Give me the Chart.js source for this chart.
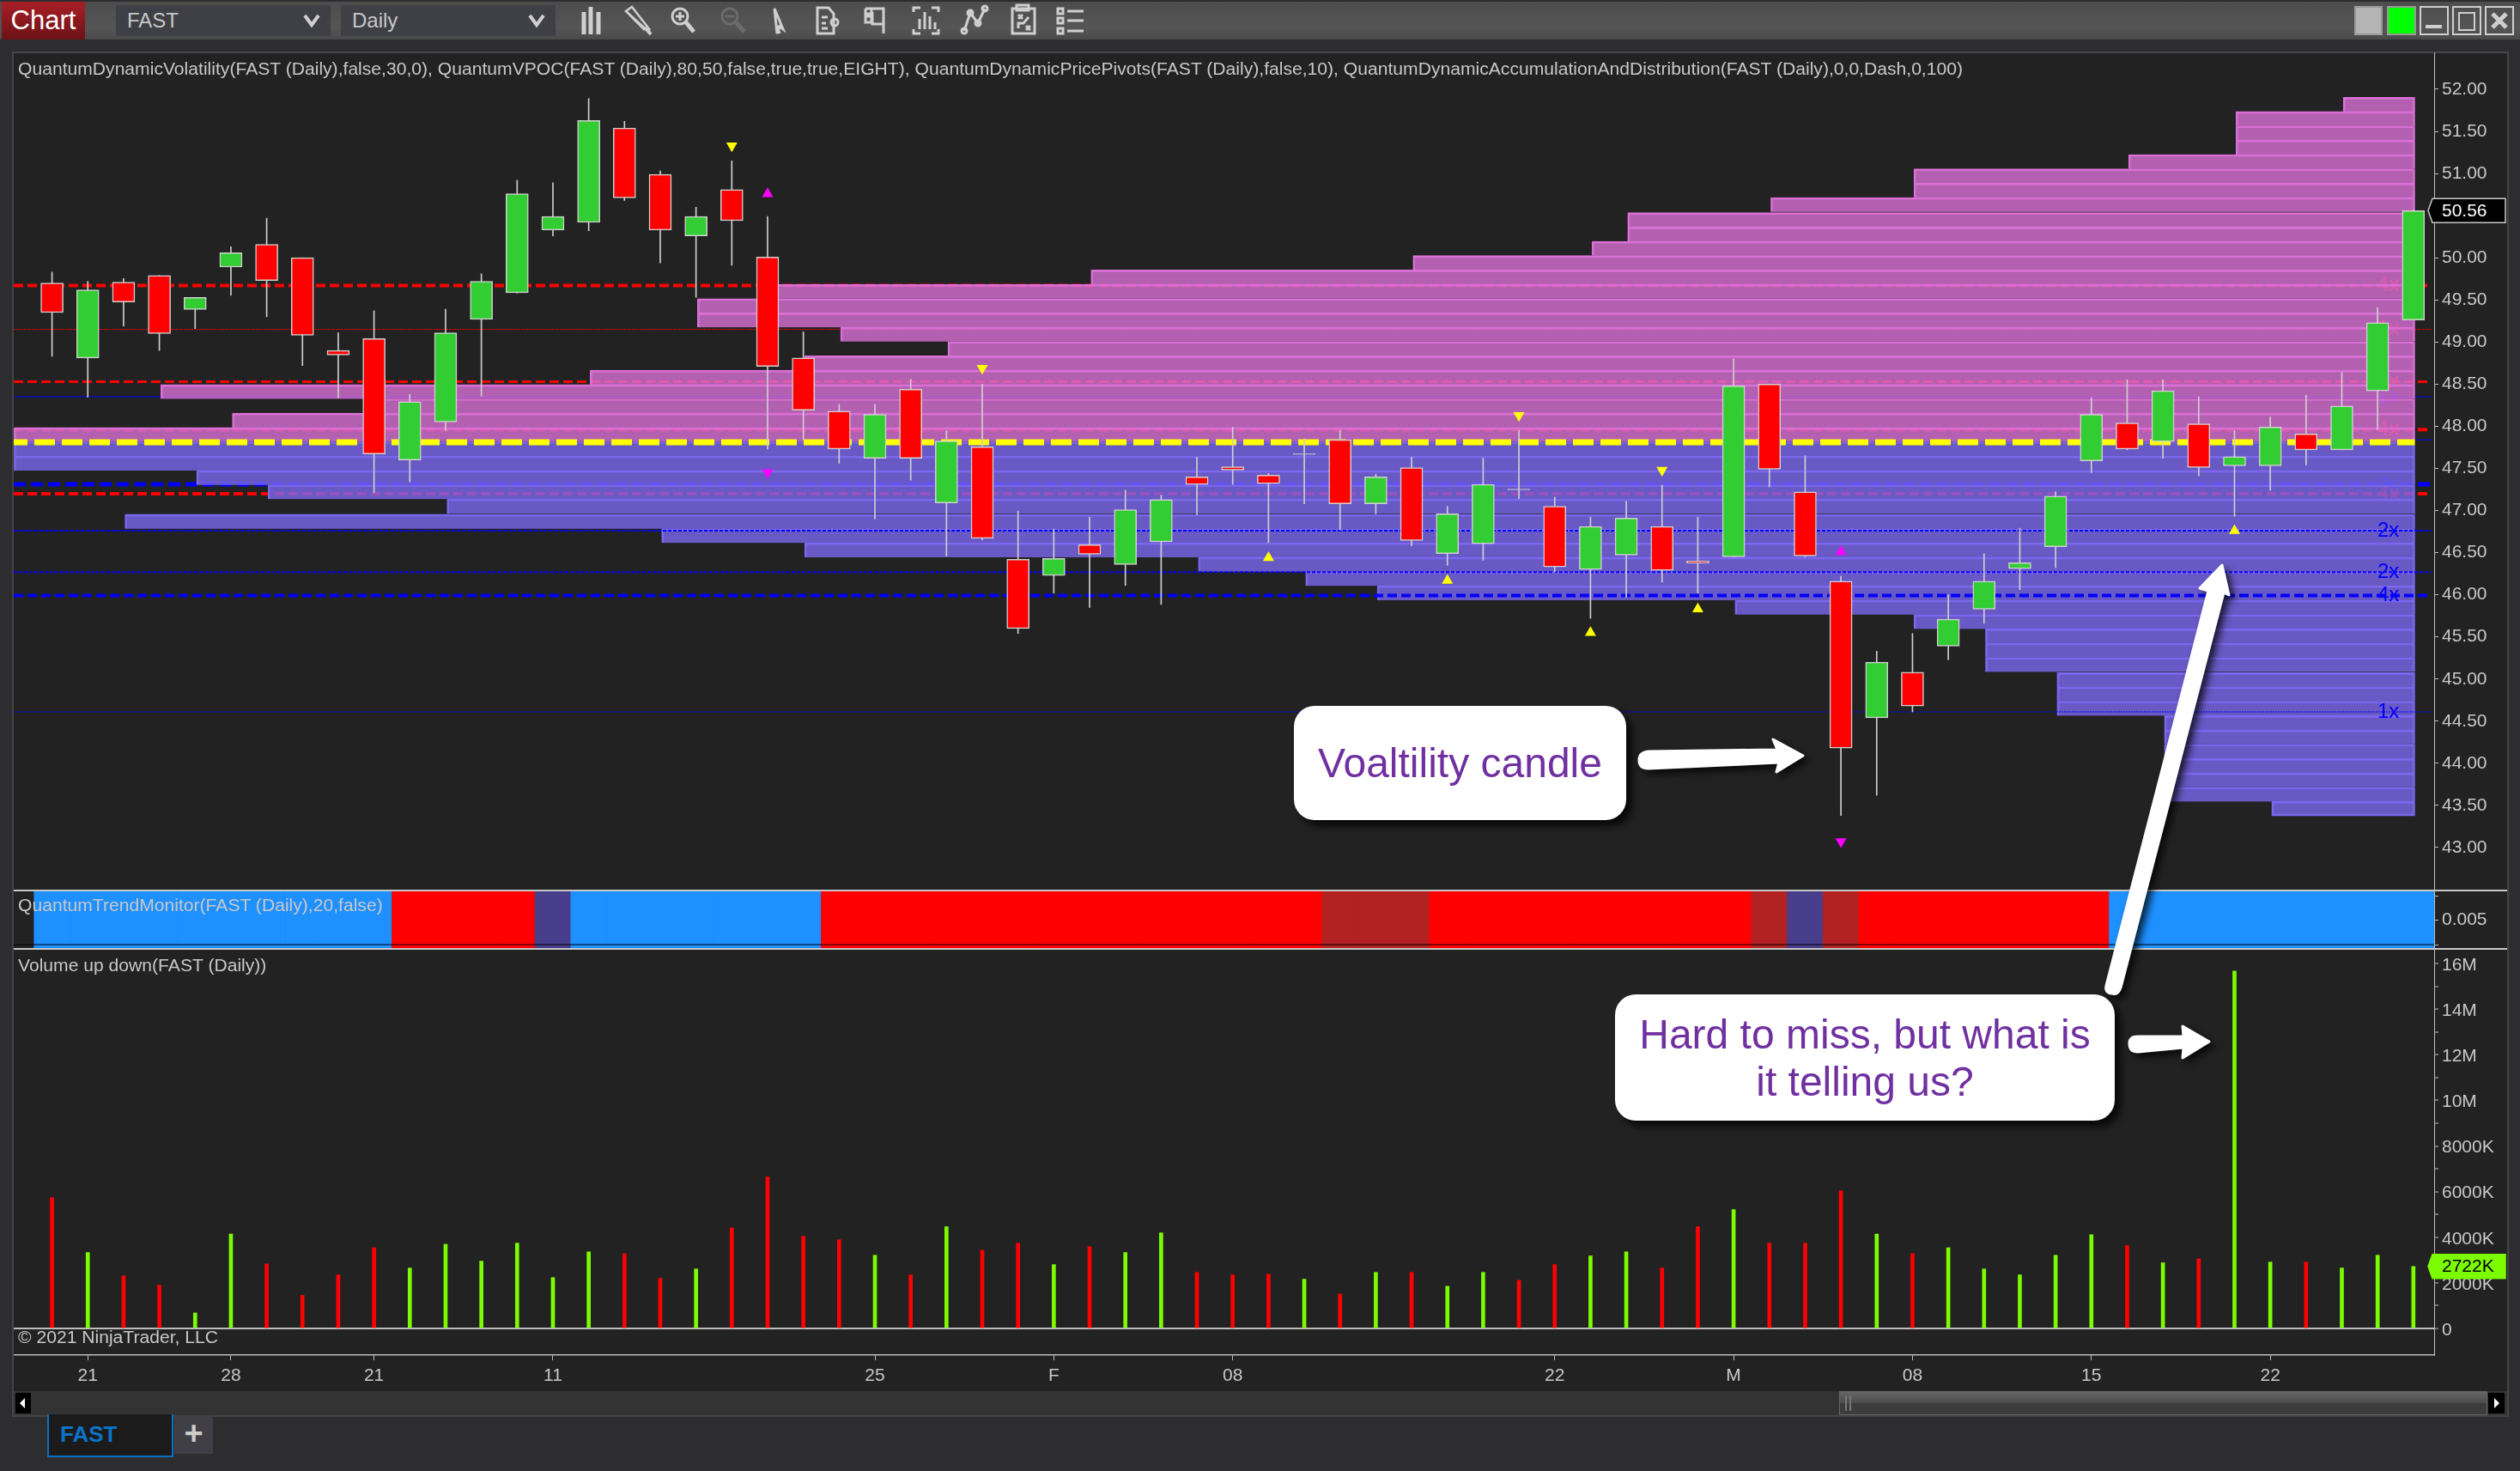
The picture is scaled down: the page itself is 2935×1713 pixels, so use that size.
<!DOCTYPE html>
<html>
<head>
<meta charset="utf-8">
<title>FAST Daily</title>
<script src="https://cdn.jsdelivr.net/npm/chart.js@4/dist/chart.umd.js"></script>
<style>
	html, body { margin: 0; padding: 0; background: #2d2d30; width: 2935px; height: 1713px; overflow: hidden; font-family: 'Liberation Sans', Arial, sans-serif; }
	.abs { position: absolute; white-space: nowrap; }
	canvas { position: absolute; display: block; }
	.label { color: #c8c8c8; font-size: 21.12px; line-height: 24px; }
	.combo { background: #3f3f46; color: #c8c8c8; font-size: 24px; line-height: 36px; top: 6px; height: 36px; width: 237px; padding-left: 13px; }
	.note { background: #fff; color: #7030a0; font-size: 48px; line-height: 55px; border-radius: 24px; box-shadow: 7px 7px 9px rgba(0,0,0,.75); display: flex; align-items: center; justify-content: center; text-align: center; }
</style>
</head>
<body>
<!-- window chrome -->
<div class="abs" style="left:0;top:2px;width:2935px;height:44px;background:linear-gradient(#4d4d4d,#555 70%,#4a4a4a)"></div>
<div class="abs" style="left:2px;top:2px;width:97px;height:44px;background:linear-gradient(#a81e26,#6d1216);color:#fff;font-size:31px;line-height:44px;text-align:center">Chart</div>
<div class="abs combo" style="left:135px">FAST</div>
<div class="abs combo" style="left:397px">Daily</div>
<div class="abs" style="left:14px;top:60px;width:2908px;height:1590px;background:#333;box-shadow:inset 0 0 0 2px #444"></div>
<div class="abs" style="left:16px;top:62px;width:2904px;height:1558px;background:#222"></div>

<canvas id="priceChart" width="2904" height="975" style="left:16px;top:61px"></canvas>
<canvas id="trendChart" width="2904" height="69" style="left:16px;top:1036px"></canvas>
<canvas id="volumeChart" width="2904" height="515" style="left:16px;top:1105px"></canvas>

<div class="abs" style="left:16px;top:1036px;width:2904px;height:1.5px;background:#c8c8c8"></div>
<div class="abs" style="left:16px;top:1104px;width:2904px;height:1.5px;background:#c8c8c8"></div>

<div class="abs label" style="left:21px;top:68px">QuantumDynamicVolatility(FAST (Daily),false,30,0), QuantumVPOC(FAST (Daily),80,50,false,true,true,EIGHT), QuantumDynamicPricePivots(FAST (Daily),false,10), QuantumDynamicAccumulationAndDistribution(FAST (Daily),0,0,Dash,0,100)</div>
<div class="abs label" style="left:21px;top:1042px">QuantumTrendMonitor(FAST (Daily),20,false)</div>
<div class="abs label" style="left:21px;top:1112px">Volume up down(FAST (Daily))</div>
<div class="abs label" style="left:21px;top:1545px">© 2021 NinjaTrader, LLC</div>

<!-- scroll bar and tabs -->
<div class="abs" style="left:18px;top:1622px;width:18px;height:24px;background:#000"></div>
<div class="abs" style="left:2142px;top:1620px;width:753px;height:26px;border:1.5px solid #666;background:linear-gradient(#666,#4c4c4c 48%,#3c3c3c 50%)"></div>
<div class="abs" style="left:2898px;top:1622px;width:19px;height:24px;background:#000"></div>
<div class="abs" style="left:55px;top:1647px;width:143px;height:48px;background:#1b1b1b;border:2px solid #0b6fc2;border-top:0;color:#0b74c8;font-size:26px;font-weight:bold;line-height:46px;text-indent:13px">FAST</div>
<div class="abs" style="left:203px;top:1648px;width:45px;height:45px;background:#3f3f45;color:#ccc;font-size:38px;font-weight:bold;line-height:42px;text-align:center">+</div>

<!-- call-outs -->
<div class="abs note" style="left:1507px;top:822px;width:387px;height:133px">Voaltility candle</div>
<div class="abs note" style="left:1881px;top:1158px;width:582px;height:147px">Hard to miss, but what is<br>it telling us?</div>

<!-- toolbar icons and annotation arrows -->
<svg class="abs" style="left:0;top:0" width="2935" height="1713" viewBox="0 0 2935 1713">
	<g fill="none" stroke="#cfcfcf" stroke-width="3">
		<path d="M355 18l8 11 8-11" stroke-width="4"/><path d="M617 18l8 11 8-11" stroke-width="4"/>
		<path d="M680 14v26M688 8v32M697 14v26" stroke-width="5"/>
		<path d="M729 13l7-5 21 27-7-3zM733 17l18 18" stroke-width="2.5"/><path d="M752 33l6 7" stroke-width="4"/>
		<circle cx="792" cy="19" r="9"/><path d="M787 19h10M792 14v10"/><path d="M799 26l9 11" stroke-width="5"/>
		<g stroke="#6b6b6b"><circle cx="850" cy="19" r="9"/><path d="M845 19h10"/><path d="M857 26l10 11" stroke-width="5"/></g>
		<path d="M902 10l10 24-4-3-3 8zM905 30l3 9"/>
		<path d="M952 9h13l6 7v23h-19zM957 20h7M957 27h5M957 33h7"/><circle cx="972" cy="26" r="4"/>
		<path d="M1008 10h21v29M1008 10v6h7v-6M1008 19h7v7h-7zM1016 14v14h13"/>
		<path d="M1064 14v-5h8M1085 9h8v5M1093 34v5h-8M1072 39h-8v-5M1071 34v-12M1077 34v-20M1083 34v-15M1089 34v-8"/>
		<path d="M1123 36l7-21 9 12 8-17"/><circle cx="1123" cy="36" r="3"/><circle cx="1130" cy="15" r="3"/><circle cx="1139" cy="27" r="3"/><circle cx="1147" cy="10" r="3"/>
		<path d="M1179 10h26v29h-26zM1184 6h14v6h-14zM1186 17l5 5M1191 17l-5 5M1195 30l5 5M1200 30l-5 5M1186 33v-6h6l6-7"/>
		<path d="M1232 10h6v6h-6zM1232 21h6v6h-6zM1232 33h6v6h-6zM1243 13h19M1243 24h19M1243 36h19"/>
	</g>
	<rect x="2743" y="8" width="31" height="32" fill="#b4b4b4" stroke="#999" stroke-width="2"/>
	<rect x="2781" y="8" width="32" height="32" fill="#00ff00" stroke="#999" stroke-width="2"/>
	<g fill="none" stroke="#cfcfcf" stroke-width="2"><rect x="2819" y="8" width="32" height="32"/><rect x="2857" y="8" width="32" height="32"/><rect x="2895" y="8" width="32" height="32"/><path d="M2825 31h19" stroke-width="4"/><rect x="2864" y="15" width="18" height="20"/><path d="M2903 16l16 16M2919 16l-16 16" stroke-width="5"/></g>
	<path d="M23 1634l6-6v12z" fill="#fff"/><path d="M2911 1634l-6-6v12z" fill="#fff"/>
	<path d="M2150 1625v18M2155 1625v18" stroke="#777" stroke-width="2"/>
	<g fill="#fff" stroke="#fff" stroke-width="3" stroke-linejoin="round" style="filter:drop-shadow(5px 5px 4px rgba(0,0,0,.75))">
		<path d="M1920 875L2070 873L2065 861L2100 880L2069 899L2072 888L1920 895Q1909 895 1909 885Q1909 876 1920 875Z"/>
		<path d="M2453 1148L2572 688L2562 685L2588 658L2596 693L2590 690L2470 1150Q2467 1159 2460 1157Q2451 1156 2453 1148Z"/>
		<path d="M2490 1207L2543 1207L2542 1195L2573 1213L2542 1232L2543 1220L2490 1225Q2480 1225 2480 1215Q2480 1207 2490 1207Z"/>
	</g>
</svg>

<script>
// bars run left to right, price values
const opens = [49.70,48.81,49.71,49.79,49.385,49.89,50.16,50.00,48.90,49.04,47.60,48.05,49.27,49.585,50.33,50.42,51.54,50.99,50.26,50.81,50.01,48.81,48.18,47.62,48.44,47.09,47.755,46.42,46.23,46.595,46.36,46.63,47.40,47.52,47.42,47.665,47.84,47.08,47.51,46.49,46.605,47.255,47.05,46.30,46.47,46.81,46.40,46.45,48.50,47.22,46.16,44.54,45.08,45.39,45.83,46.31,46.57,47.59,48.04,47.82,48.03,47.53,47.53,47.91,47.72,48.42,49.26];
const highs = [49.83,49.72,49.755,49.79,49.53,50.13,50.47,50.00,49.11,49.37,48.38,49.39,49.81,50.92,50.89,51.89,51.62,51.03,50.60,51.15,50.49,49.12,48.26,48.26,48.56,47.95,48.50,46.995,46.78,46.92,47.24,47.18,47.63,47.99,47.44,47.85,47.95,47.43,47.63,47.05,47.62,47.95,47.16,46.92,47.11,47.30,46.92,48.80,48.50,47.65,46.22,45.33,45.54,46.00,46.49,46.79,47.22,48.34,48.55,48.55,48.35,47.95,48.11,48.37,48.64,49.41,50.57];
const lows = [48.83,48.345,49.19,48.90,49.16,49.555,49.30,48.72,48.34,47.21,47.34,47.95,48.36,49.58,50.26,50.32,50.68,49.94,49.53,49.91,47.73,47.84,47.56,46.90,47.36,46.46,46.65,45.54,46.02,45.85,46.11,45.885,46.95,47.31,46.62,47.08,46.77,46.96,46.58,46.35,46.41,47.14,46.27,45.72,45.97,46.15,46.02,46.45,47.28,46.45,43.38,43.62,44.61,45.23,45.66,46.06,46.32,47.45,47.72,47.62,47.41,46.93,47.24,47.54,47.72,47.96,49.26];
const closes = [49.35,49.62,49.475,49.10,49.53,50.06,49.73,49.08,48.845,47.67,48.29,49.11,49.72,50.76,50.49,51.63,50.71,50.33,50.49,50.44,48.71,48.19,47.73,48.14,47.62,47.825,46.67,45.60,46.43,46.48,47.01,47.13,47.31,47.48,47.32,47.675,47.08,47.40,46.645,46.96,47.31,47.245,46.33,46.81,46.91,46.29,46.376,48.48,47.49,46.46,44.18,45.20,44.68,45.71,46.16,46.38,47.17,48.14,47.73,48.42,47.51,47.64,47.99,47.72,48.24,49.23,50.56];
// volume in millions
const volumes = [5.74,3.33,2.31,1.90,0.68,4.14,2.83,1.45,2.35,3.54,2.65,3.69,2.95,3.74,2.23,3.36,3.28,2.20,2.61,4.41,6.64,4.04,3.89,3.21,2.35,4.46,3.43,3.74,2.80,3.59,3.33,4.19,2.46,2.35,2.38,2.16,1.51,2.46,2.46,1.85,2.46,2.11,2.80,3.18,3.36,2.65,4.46,5.21,3.74,3.74,6.04,4.14,3.28,3.54,2.61,2.35,3.21,4.11,3.63,2.88,3.06,15.67,2.91,2.91,2.65,3.21,2.72];

// trend monitor state per bar, the last block runs on to the axis
const trendStates = ['up','up','up','up','up','up','up','up','up','up','down','down','down','down','flat','up','up','up','up','up','up','up','down','down','down','down','down','down','down','down','down','down','down','down','down','down','weak','weak','weak','down','down','down','down','down','down','down','down','down','weak','flat','weak','down','down','down','down','down','down','down','up','up','up','up','up','up','up','up','up','up'];
const trendColours = { up: '#1e90ff', down: '#ff0000', weak: '#b22222', flat: '#483d8b' };

// volume profile rows: row price and its length in bars
const profilePrices = [51.82,51.65,51.48,51.31,51.14,50.97,50.80,50.63,50.45,50.28,50.11,49.94,49.77,49.60,49.43,49.26,49.09,48.92,48.75,48.58,48.41,48.24,48.07,47.90,47.73,47.56,47.39,47.22,47.05,46.87,46.70,46.53,46.36,46.19,46.02,45.85,45.68,45.51,45.34,45.17,44.99,44.82,44.65,44.48,44.31,44.14,43.97,43.80,43.63,43.46];
const profileLengths = [2,5,5,5,8,14,14,18,22,22,23,28,37,46,48,48,44,41,45,51,63,57,61,67.1,67.1,67.1,62,60,55,64,49,45,34,31,29,19,14,12,12,12,10,10,10,7,7,7,7,7,7,4];
const pocPrice = 47.81;

// accumulation and distribution levels
const levelPrices = [49.67,49.15,48.53,48.35,47.96,47.84,47.31,47.20,46.76,46.27,45.99,44.61];
const levelLabels = ['4x','1x','2x','1x','4x','','4x','4x','2x','2x','4x','1x'];
const levelSides = ['sell','sell','sell','buy','sell','buy','buy','sell','buy','buy','buy','buy'];
const levelFront = [false,false,false,false,false,false,false,false,true,true,true,true];
const levelWidths = [4,1,3,1,4,1,5,4,2,2,4,1];
const levelDashes = [[11,5],[2,1],[11,5],[],[11,5],[],[14,6],[11,5],[4,2],[4,2],[11,5],[2,1]];

// price pivots
const pivotBars = [19,20,20,26,34,41,45,39,46,43,50,50,61];
const pivotPrices = [51.33,50.76,47.45,48.69,46.44,48.13,47.48,46.17,45.83,45.55,46.51,43.07,46.76];
const pivotKinds = ['yellowDown','magentaUp','magentaDown','yellowDown','yellowUp','yellowDown','yellowDown','yellowUp','yellowUp','yellowUp','magentaUp','magentaDown','yellowUp'];

// axis labels
const priceTicks = [43,43.5,44,44.5,45,45.5,46,46.5,47,47.5,48,48.5,49,49.5,50,50.5,51,51.5,52];
const trendTicks = [0,0.005,0.01];
const volumeTicks = [0,1,2,3,4,5,6,7,8,9,10,11,12,13,14,15,16];
const volumeLabels = { 0: '0', 2: '2000K', 4: '4000K', 6: '6000K', 8: '8000K', 10: '10M', 12: '12M', 14: '14M', 16: '16M' };
const dateBars = [1,5,9,14,23,28,33,42,47,52,57,62];
const dateLabels = ['21','28','21','11','25','F','08','22','M','08','15','22'];
const lastPrice = 50.56;
const lastVolume = 2.722;
const lastVolumeLabel = '2722K';

const bars = opens.map((o, i) => i);
const xMin = -1.07, xMax = 66.58, profileEnd = 66.04, levelEnd = 66.5;
const axisColour = '#bdbdbd', textColour = '#c8c8c8';
const font = { family: "'Liberation Sans', Arial, sans-serif", size: 21 };

const noPad = s => { s.paddingTop = 0; s.paddingBottom = 0; s.paddingLeft = 0; s.paddingRight = 0; };

function yAxis(min, max, ticks, format, labelOffset) {
	return {
		type: 'linear', position: 'right', min, max, offset: false,
		afterFit: s => { s.width = 85; noPad(s); },
		afterBuildTicks: s => { s.ticks = ticks.map(value => ({ value })); },
		border: { display: true, color: axisColour, width: 1 },
		grid: { offset: false, drawOnChartArea: false, tickLength: 5, tickColor: axisColour, tickWidth: 1 },
		ticks: { color: textColour, font, padding: 4, autoSkip: false, maxRotation: 0, labelOffset: labelOffset || 0, callback: format }
	};
}
const hiddenX = { type: 'linear', min: xMin, max: xMax, offset: false, display: false, grid: { offset: false } };
const baseOptions = { responsive: false, animation: false, devicePixelRatio: 1, layout: { padding: 0, autoPadding: false }, events: [], plugins: { legend: { display: false }, tooltip: { enabled: false } } };

// price / volume flag on the right axis
function flagPlugin(value, label, fill, ink, stroke) {
	return {
		id: 'flag',
		afterDraw(chart) {
			const c = chart.ctx, y = chart.scales.y.getPixelForValue(value), l = chart.chartArea.right - 7, r = chart.width - 2;
			c.save();
			c.beginPath();
			c.moveTo(l, y);
			c.lineTo(l + 5, y - 14);
			c.lineTo(r, y - 14);
			c.lineTo(r, y + 14);
			c.lineTo(l + 5, y + 14);
			c.closePath();
			c.fillStyle = fill;
			c.fill();
			c.strokeStyle = stroke;
			c.lineWidth = 1.5;
			c.stroke();
			c.fillStyle = ink;
			c.font = "21px 'Liberation Sans', Arial, sans-serif";
			c.textBaseline = 'middle';
			c.fillText(label, chart.chartArea.right + 9, y + 1);
			c.restore();
		}
	};
}

function drawLevelLabels(chart, front) {
	const c = chart.ctx, x = chart.scales.x.getPixelForValue(65.3);
	c.save();
	c.font = "24px 'Liberation Sans', Arial, sans-serif";
	c.textAlign = 'center';
	c.textBaseline = 'middle';
	levelLabels.forEach((t, i) => {
		if (!t || levelFront[i] !== front) return;
		c.fillStyle = levelSides[i] === 'sell' ? '#ff0000' : '#0000ff';
		c.fillText(t, x, chart.scales.y.getPixelForValue(levelPrices[i]));
	});
	c.restore();
}
const levelLabelPlugin = {
	id: 'levelLabels',
	beforeDatasetsDraw: chart => drawLevelLabels(chart, false),
	afterDatasetsDraw: chart => drawLevelLabels(chart, true)
};

const isDoji = i => Math.abs(opens[i] - closes[i]) < 0.02;
const bodyColour = i => isDoji(i) ? '#c8c8c8' : closes[i] > opens[i] ? '#32cd32' : '#ff0000';
const orchid = a => `rgba(218,112,214,${a})`, slate = a => `rgba(123,104,238,${a})`;
const markerSets = {
	yellowUp: ['#ffff00', 0], yellowDown: ['#ffff00', 180],
	magentaUp: ['#ff00ff', 0], magentaDown: ['#ff00ff', 180]
};

const levelSets = levelPrices.map((p, i) => ({
	type: 'line',
	order: levelFront[i] ? 4 : 6,
	data: [{ x: xMin, y: p }, { x: levelEnd, y: p }],
	borderColor: levelSides[i] === 'sell' ? '#ff0000' : '#0000ff',
	borderWidth: levelWidths[i],
	borderDash: levelDashes[i],
	pointRadius: 0
}));
const pivotSets = Object.keys(markerSets).map(kind => ({
	type: 'scatter',
	order: 0,
	data: pivotBars.map((b, i) => ({ x: b, y: pivotPrices[i], k: pivotKinds[i] })).filter(p => p.k === kind),
	pointStyle: 'triangle',
	pointRadius: 7.5,
	pointRotation: markerSets[kind][1],
	backgroundColor: markerSets[kind][0],
	borderWidth: 0
}));

new Chart(document.getElementById('priceChart'), {
	type: 'bar',
	data: {
		datasets: [
			...pivotSets,
			{
				order: 1, grouped: false, barThickness: 26,
				data: bars.map(i => ({ x: i, y: [Math.min(opens[i], closes[i]), Math.max(opens[i], closes[i])] })),
				backgroundColor: bars.map(bodyColour),
				borderColor: '#d0d0d0', borderWidth: 1.5, borderSkipped: false
			},
			{
				order: 2, grouped: false, barThickness: 1,
				data: bars.map(i => ({ x: i, y: [lows[i], highs[i]] })),
				backgroundColor: '#cfcfcf', borderWidth: 0
			},
			{
				type: 'line', order: 3,
				data: [{ x: xMin, y: pocPrice }, { x: profileEnd, y: pocPrice }],
				borderColor: '#ffff00', borderWidth: 7, borderDash: [24, 8], borderDashOffset: 8, pointRadius: 0
			},
			...levelSets,
			{
				order: 5, grouped: false, indexAxis: 'y', barThickness: 16.75,
				data: profilePrices.map((p, i) => ({ y: p, x: [profileEnd - profileLengths[i], profileEnd] })),
				backgroundColor: profilePrices.map(p => p > pocPrice ? orchid(0.8) : slate(0.8)),
				borderColor: profilePrices.map(p => p > pocPrice ? orchid(1) : slate(1)),
				borderWidth: ctx => ({ top: 2, left: 2, right: 2, bottom: ctx.dataIndex === profilePrices.length - 1 ? 2 : 0 }),
				borderSkipped: false
			}
		]
	},
	options: { ...baseOptions, scales: { x: hiddenX, y: yAxis(42.5, 52.438, priceTicks, v => v.toFixed(2)) } },
	plugins: [levelLabelPlugin, flagPlugin(lastPrice, lastPrice.toFixed(2), '#000', '#fff', '#c8c8c8')]
});

const trendMin = -0.00088, trendMax = 0.0113;
new Chart(document.getElementById('trendChart'), {
	type: 'bar',
	data: {
		datasets: [
			{
				type: 'line', order: 0,
				data: [{ x: xMin, y: 0 }, { x: xMax, y: 0 }],
				borderColor: '#000', borderWidth: 1, pointRadius: 0
			},
			{
				order: 1, grouped: false, barThickness: 41.7,
				data: trendStates.map((s, i) => ({ x: i, y: [trendMin, trendMax] })),
				backgroundColor: trendStates.map(s => trendColours[s]), borderWidth: 0
			}
		]
	},
	options: { ...baseOptions, scales: { x: hiddenX, y: yAxis(trendMin, trendMax, trendTicks, v => v === 0.005 ? '0.005' : '') } }
});

new Chart(document.getElementById('volumeChart'), {
	type: 'bar',
	data: {
		datasets: [{
			grouped: false, barThickness: 4,
			data: bars.map(i => ({ x: i, y: volumes[i] })),
			backgroundColor: bars.map(i => closes[i] >= opens[i] ? '#7cfc00' : '#ff0000'),
			borderWidth: 0
		}]
	},
	options: {
		...baseOptions,
		scales: {
			x: {
				type: 'linear', min: xMin, max: xMax, offset: false,
				afterFit: s => { s.height = 42; noPad(s); },
				afterBuildTicks: s => { s.ticks = dateBars.map(value => ({ value })); },
				border: { display: true, color: axisColour, width: 1.5 },
				grid: { offset: false, drawOnChartArea: false, tickLength: 6, tickColor: axisColour },
				ticks: { color: textColour, font, padding: 6, autoSkip: false, maxRotation: 0, callback: v => dateLabels[dateBars.indexOf(v)] }
			},
			y: (() => {
				const y = yAxis(-1.167, 16.64, volumeTicks, v => volumeLabels[v] || '', 2);
				y.grid.drawOnChartArea = true;
				y.grid.color = ctx => ctx.tick.value === 0 ? axisColour : 'transparent';
				y.grid.lineWidth = 2;
				return y;
			})()
		}
	},
	plugins: [flagPlugin(lastVolume, lastVolumeLabel, '#7cfc00', '#000', '#7cfc00')]
});
</script>
</body>
</html>
